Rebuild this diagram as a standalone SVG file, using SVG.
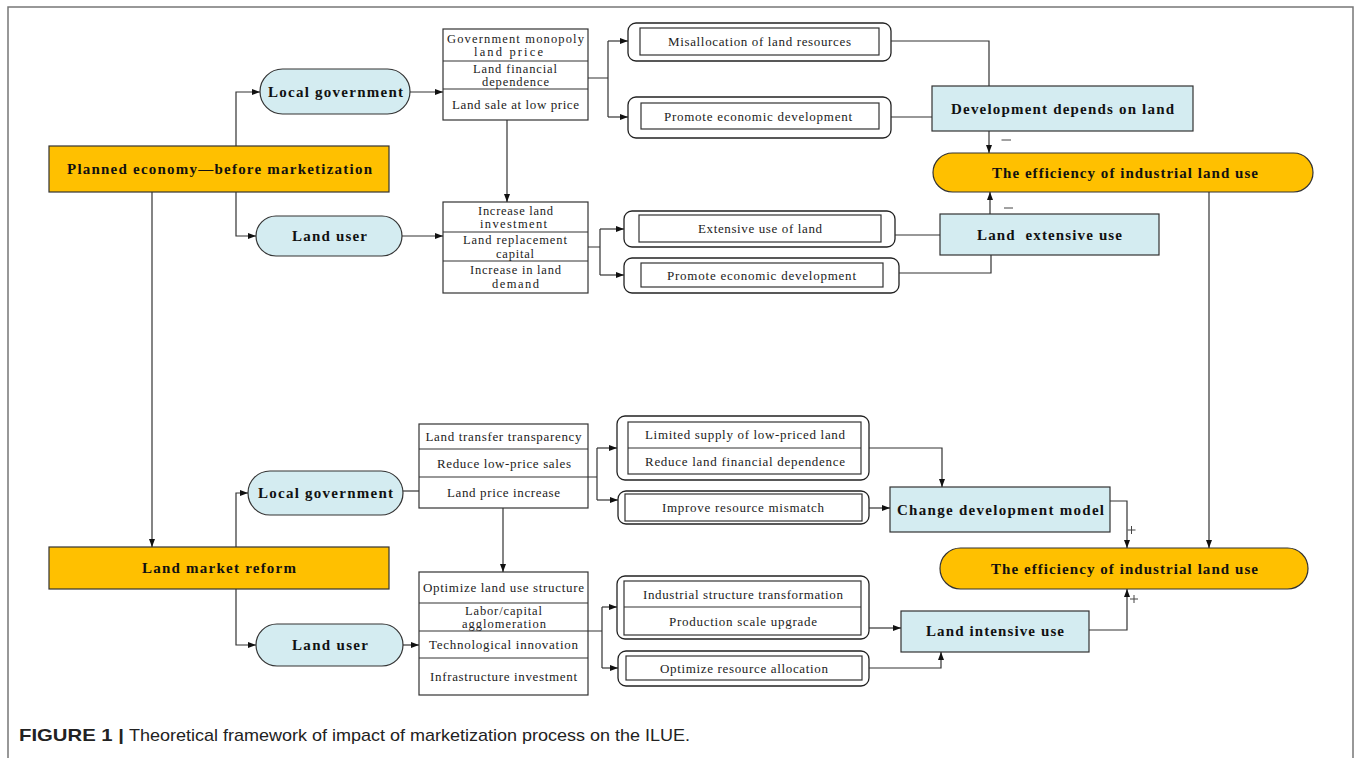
<svg xmlns="http://www.w3.org/2000/svg" width="1356" height="758" viewBox="0 0 1356 758">
<defs>
<marker id="ah" markerUnits="userSpaceOnUse" markerWidth="8" markerHeight="6" refX="8" refY="3" orient="auto">
<path d="M0,0 L8,3 L0,6 z" fill="#111"/>
</marker>
<style>
.frame{fill:none;stroke:#777;stroke-width:1.5}
.main{fill:#FFC000;stroke:#333;stroke-width:1.2}
.blue{fill:#D4ECF1;stroke:#333;stroke-width:1.2}
.tbl{fill:#fff;stroke:#333;stroke-width:1.2}
.outer{fill:#fff;stroke:#222;stroke-width:1.3}
.inner{fill:#fff;stroke:#333;stroke-width:1.2}
.div{stroke:#333;stroke-width:1.2}
.con path{fill:none;stroke:#333;stroke-width:1.2}
.b{font-family:"Liberation Serif","Times New Roman",serif;font-weight:bold;font-size:15px;fill:#111;text-anchor:middle;dominant-baseline:central}
.t{font-family:"Liberation Serif","Times New Roman",serif;font-size:13px;fill:#222;text-anchor:middle;dominant-baseline:central}
.t2{font-family:"Liberation Serif","Times New Roman",serif;font-size:12.5px;fill:#222;text-anchor:middle;dominant-baseline:central}
.sign{stroke:#444;stroke-width:1;fill:none}
.cap{font-family:"Liberation Sans",Arial,sans-serif;font-size:17px;fill:#222}
</style>
</defs>
<rect width="1356" height="758" fill="#fff"/>
<path class="frame" d="M8,758 V7 H1353 V758"/>

<g id="planned">
<rect class="main" x="49" y="146" width="340" height="46"/>
<text class="b" x="219.5" y="169" textLength="305" lengthAdjust="spacing">Planned economy—before marketization</text>
</g>
<g id="localgov1">
<rect class="blue" x="260" y="69" width="150" height="45" rx="22.5"/>
<text class="b" x="335.5" y="92" textLength="135" lengthAdjust="spacing">Local government</text>
</g>
<g id="landuser1">
<rect class="blue" x="256" y="216" width="146" height="40" rx="20"/>
<text class="b" x="329.5" y="236" textLength="75" lengthAdjust="spacing">Land user</text>
</g>
<g id="table1">
<rect class="tbl" x="443" y="29" width="145" height="91"/>
<line class="div" x1="443" y1="61" x2="588" y2="61"/>
<line class="div" x1="443" y1="89" x2="588" y2="89"/>
<text class="t2" x="515.5" y="38.5" textLength="137" lengthAdjust="spacing">Government monopoly</text>
<text class="t2" x="508.5" y="52" textLength="69" lengthAdjust="spacing">land price</text>
<text class="t2" x="515" y="68.5" textLength="84" lengthAdjust="spacing">Land financial</text>
<text class="t2" x="515.5" y="82" textLength="67" lengthAdjust="spacing">dependence</text>
<text class="t" x="515.5" y="104" textLength="127" lengthAdjust="spacing">Land sale at low price</text>
</g>
<g id="table2">
<rect class="tbl" x="443" y="202" width="145" height="91"/>
<line class="div" x1="443" y1="232" x2="588" y2="232"/>
<line class="div" x1="443" y1="261" x2="588" y2="261"/>
<text class="t2" x="515.5" y="210.5" textLength="75" lengthAdjust="spacing">Increase land</text>
<text class="t2" x="513.5" y="224" textLength="67" lengthAdjust="spacing">investment</text>
<text class="t2" x="515" y="240" textLength="104" lengthAdjust="spacing">Land replacement</text>
<text class="t2" x="515" y="253.5" textLength="38" lengthAdjust="spacing">capital</text>
<text class="t2" x="515.5" y="270" textLength="91" lengthAdjust="spacing">Increase in land</text>
<text class="t2" x="515.5" y="283.5" textLength="47" lengthAdjust="spacing">demand</text>
</g>
<g id="misalloc">
<rect class="outer" x="628" y="23" width="263" height="38" rx="8"/>
<rect class="inner" x="640" y="28" width="239" height="27"/>
<text class="t" x="759.5" y="41.5" textLength="183" lengthAdjust="spacing">Misallocation of land resources</text>
</g>
<g id="promote1">
<rect class="outer" x="628" y="97" width="263" height="41" rx="8"/>
<rect class="inner" x="641" y="103" width="238" height="26"/>
<text class="t" x="758" y="116" textLength="188" lengthAdjust="spacing">Promote economic development</text>
</g>
<g id="devland">
<rect class="blue" x="932" y="86" width="261" height="45"/>
<text class="b" x="1062.5" y="108.5" textLength="223" lengthAdjust="spacing">Development depends on land</text>
</g>
<g id="eff1">
<rect class="main" x="933" y="153" width="380" height="39" rx="19.5"/>
<text class="b" x="1125" y="172.5" textLength="266" lengthAdjust="spacing">The efficiency of industrial land use</text>
</g>
<g id="extensive">
<rect class="outer" x="624" y="211" width="271" height="36" rx="8"/>
<rect class="inner" x="639" y="215" width="242" height="27"/>
<text class="t" x="760" y="228.5" textLength="124" lengthAdjust="spacing">Extensive use of land</text>
</g>
<g id="promote2">
<rect class="outer" x="624" y="258" width="275" height="35" rx="8"/>
<rect class="inner" x="641" y="263" width="242" height="24"/>
<text class="t" x="761.5" y="275" textLength="189" lengthAdjust="spacing">Promote economic development</text>
</g>
<g id="landext">
<rect class="blue" x="940" y="214" width="219" height="41"/>
<text class="b" x="1049.5" y="235" textLength="145" lengthAdjust="spacing" xml:space="preserve">Land  extensive use</text>
</g>

<g id="landmarket">
<rect class="main" x="49" y="547" width="340" height="42"/>
<text class="b" x="219" y="568" textLength="154" lengthAdjust="spacing">Land market reform</text>
</g>
<g id="localgov2">
<rect class="blue" x="248" y="471" width="155" height="44" rx="22"/>
<text class="b" x="325.5" y="493" textLength="135" lengthAdjust="spacing">Local government</text>
</g>
<g id="landuser2">
<rect class="blue" x="256" y="624" width="147" height="42" rx="21"/>
<text class="b" x="330" y="645" textLength="76" lengthAdjust="spacing">Land user</text>
</g>
<g id="table3">
<rect class="tbl" x="419" y="424" width="169" height="84"/>
<line class="div" x1="419" y1="449" x2="588" y2="449"/>
<line class="div" x1="419" y1="477" x2="588" y2="477"/>
<text class="t" x="503.5" y="436.5" textLength="156" lengthAdjust="spacing">Land transfer transparency</text>
<text class="t" x="504" y="463" textLength="134" lengthAdjust="spacing">Reduce low-price sales</text>
<text class="t" x="503.5" y="492" textLength="113" lengthAdjust="spacing">Land price increase</text>
</g>
<g id="table4">
<rect class="tbl" x="419" y="572" width="169" height="123"/>
<line class="div" x1="419" y1="603" x2="588" y2="603"/>
<line class="div" x1="419" y1="631" x2="588" y2="631"/>
<line class="div" x1="419" y1="658" x2="588" y2="658"/>
<text class="t" x="503.5" y="587" textLength="161" lengthAdjust="spacing">Optimize land use structure</text>
<text class="t2" x="503.5" y="610.5" textLength="77" lengthAdjust="spacing">Labor/capital</text>
<text class="t2" x="504" y="623.5" textLength="84" lengthAdjust="spacing">agglomeration</text>
<text class="t" x="503.5" y="644.5" textLength="149" lengthAdjust="spacing">Technological innovation</text>
<text class="t" x="503.5" y="676.5" textLength="147" lengthAdjust="spacing">Infrastructure investment</text>
</g>
<g id="limited">
<rect class="outer" x="617" y="416" width="252" height="64" rx="8"/>
<rect class="inner" x="628" y="422" width="233" height="52"/>
<line class="div" x1="628" y1="448" x2="861" y2="448"/>
<text class="t" x="745" y="434" textLength="200" lengthAdjust="spacing">Limited supply of low-priced land</text>
<text class="t" x="745" y="461" textLength="200" lengthAdjust="spacing">Reduce land financial dependence</text>
</g>
<g id="improve">
<rect class="outer" x="618" y="491" width="251" height="33" rx="8"/>
<rect class="inner" x="625" y="494" width="237" height="27"/>
<text class="t" x="743" y="507.5" textLength="162" lengthAdjust="spacing">Improve resource mismatch</text>
</g>
<g id="changedev">
<rect class="blue" x="890" y="487" width="220" height="45"/>
<text class="b" x="1000.5" y="510" textLength="207" lengthAdjust="spacing">Change development model</text>
</g>
<g id="eff2">
<rect class="main" x="940" y="548" width="368" height="41" rx="20.5"/>
<text class="b" x="1124.5" y="568.5" textLength="267" lengthAdjust="spacing">The efficiency of industrial land use</text>
</g>
<g id="industrial">
<rect class="outer" x="617" y="576" width="252" height="63" rx="8"/>
<rect class="inner" x="624" y="581" width="237" height="54"/>
<line class="div" x1="624" y1="607" x2="861" y2="607"/>
<text class="t" x="743" y="594" textLength="200" lengthAdjust="spacing">Industrial structure transformation</text>
<text class="t" x="743" y="621" textLength="148" lengthAdjust="spacing">Production scale upgrade</text>
</g>
<g id="optimize">
<rect class="outer" x="618" y="651" width="251" height="35" rx="8"/>
<rect class="inner" x="626" y="656" width="236" height="24"/>
<text class="t" x="744" y="668" textLength="168" lengthAdjust="spacing">Optimize resource allocation</text>
</g>
<g id="intensive">
<rect class="blue" x="901" y="611" width="188" height="41"/>
<text class="b" x="995" y="631" textLength="138" lengthAdjust="spacing">Land intensive use</text>
</g>

<g id="connectors" class="con">
<path d="M236,146 V92 H260" marker-end="url(#ah)"/>
<path d="M236,192 V236 H256" marker-end="url(#ah)"/>
<path d="M410,92 H443" marker-end="url(#ah)"/>
<path d="M402,236 H443" marker-end="url(#ah)"/>
<path d="M507,120 V202" marker-end="url(#ah)"/>
<path d="M588,78 H608 M608,41 V117"/>
<path d="M608,41 H628" marker-end="url(#ah)"/>
<path d="M608,117 H628" marker-end="url(#ah)"/>
<path d="M891,41 H989 V86"/>
<path d="M891,117 H932"/>
<path d="M989,131 V153" marker-end="url(#ah)"/>
<path d="M588,247 H600 M600,229 V275"/>
<path d="M600,229 H624" marker-end="url(#ah)"/>
<path d="M600,275 H624" marker-end="url(#ah)"/>
<path d="M895,235 H940"/>
<path d="M899,273 H991 V255"/>
<path d="M990,214 V192" marker-end="url(#ah)"/>
<path d="M1209,192 V548" marker-end="url(#ah)"/>
<path d="M152,192 V547" marker-end="url(#ah)"/>
<path d="M236,547 V493 H248" marker-end="url(#ah)"/>
<path d="M236,589 V645 H256" marker-end="url(#ah)"/>
<path d="M403,491 H419"/>
<path d="M403,645 H419" marker-end="url(#ah)"/>
<path d="M503,508 V572" marker-end="url(#ah)"/>
<path d="M588,477 H597 M597,448 V500"/>
<path d="M597,448 H617" marker-end="url(#ah)"/>
<path d="M597,500 H618" marker-end="url(#ah)"/>
<path d="M869,448 H942 V487" marker-end="url(#ah)"/>
<path d="M869,508 H890" marker-end="url(#ah)"/>
<path d="M1110,501 H1127 V548" marker-end="url(#ah)"/>
<path d="M588,631 H602 M602,607 V668"/>
<path d="M602,607 H617" marker-end="url(#ah)"/>
<path d="M602,668 H618" marker-end="url(#ah)"/>
<path d="M869,628 H901" marker-end="url(#ah)"/>
<path d="M869,668 H941 V652" marker-end="url(#ah)"/>
<path d="M1089,630 H1127 V589" marker-end="url(#ah)"/>
</g>
<g id="signs">
<path class="sign" d="M1001.5,140 H1011 M1004,208 H1013"/>
<path class="sign" d="M1127.5,530 H1135.5 M1131.5,526 V534 M1130,599 H1138 M1134,595 V603"/>
</g>
<g id="caption">
<text class="cap" x="19" y="741"><tspan font-weight="bold" textLength="105" lengthAdjust="spacingAndGlyphs">FIGURE 1 |</tspan><tspan x="129" textLength="561" lengthAdjust="spacingAndGlyphs">Theoretical framework of impact of marketization process on the ILUE.</tspan></text>
</g>
</svg>
